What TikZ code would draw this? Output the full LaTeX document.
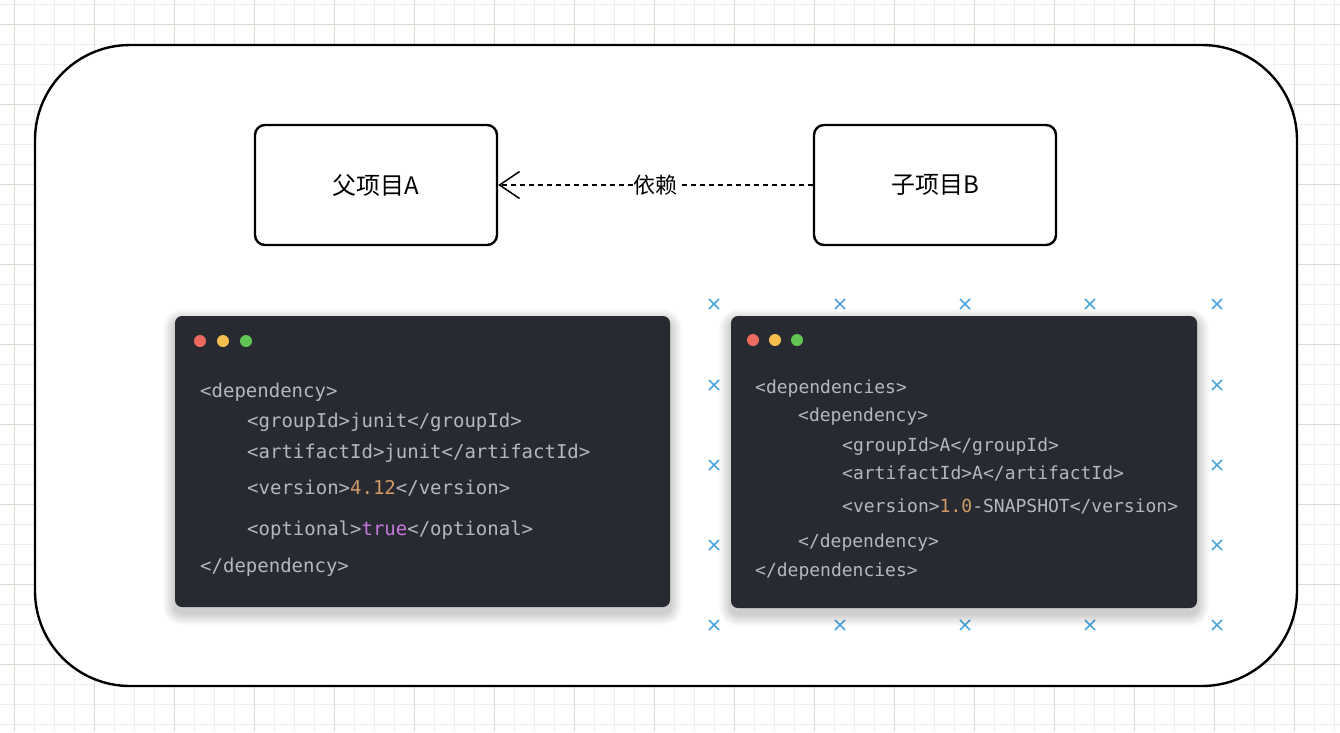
\documentclass[tikz,border=0pt]{standalone}
\usepackage{fontspec}
\setmonofont{DejaVu Sans Mono}
\newfontfamily\cjk{Noto Sans CJK SC}
\usetikzlibrary{arrows.meta,positioning}

\definecolor{gridminor}{HTML}{EFEFEA}
\definecolor{gridmajor}{HTML}{DCDAD0}
\definecolor{codebg}{HTML}{282A31}
\definecolor{codetext}{HTML}{B4B7BD}
\definecolor{codenum}{HTML}{D19A66}
\definecolor{codekw}{HTML}{C678DD}
\definecolor{dotred}{HTML}{EC6A5E}
\definecolor{dotyellow}{HTML}{F4BF4F}
\definecolor{dotgreen}{HTML}{61C554}
\definecolor{marker}{HTML}{4BA3DF}

\tikzstyle{project}=[draw,line width=2.4pt,rounded corners=10pt,minimum width=242pt,minimum height=120pt,font=\cjk\fontsize{24}{28}\selectfont]
\tikzstyle{window}=[fill=codebg,rounded corners=7pt,inner sep=0pt]
\tikzstyle{light}=[circle,inner sep=0pt,minimum size=12pt]
\tikzstyle{codeline}=[anchor=west,inner sep=0pt,text=codetext,text height=14pt,text depth=4pt]
\tikzstyle{crossmark}=[marker,line width=1.5pt]

\begin{document}
\begin{tikzpicture}[x=1pt,y=-1pt,
minorline/.style={gridminor,line width=0.7pt},
majorline/.style={gridmajor,line width=0.7pt},
dep/.style={line width=1.4pt,dash pattern=on 5pt off 4pt,-{Straight Barb[length=20pt,width=27pt,line width=1.5pt]}}]
\useasboundingbox (0,0) rectangle (1340,732);
% background grid
\fill[white] (0,0) rectangle (1340,732);
\foreach \gx in {14,34,...,1334} \draw[minorline] (\gx,0) -- (\gx,732);
\foreach \gy in {4,24,...,724} \draw[minorline] (0,\gy) -- (1340,\gy);
\foreach \gx in {14,94,...,1334} \draw[majorline] (\gx,0) -- (\gx,732);
\foreach \gy in {24,104,...,664} \draw[majorline] (0,\gy) -- (1340,\gy);

% outer frame
\draw[line width=2.4pt,fill=white,rounded corners=95pt] (35,45) rectangle (1297,686);

% the two projects
\node[project] (parentA) at (376,185) {父项目A};
\node[project] (childB) at (935,185) {子项目B};
\draw[dep] (childB) -- node[fill=white,inner sep=1pt,font=\cjk\fontsize{22}{26}\selectfont] (deplabel) {依赖} (parentA);

% selection marks round the right window
\foreach \mx in {714,840,965,1090,1217}
  \foreach \my in {304,625}
    \draw[crossmark] (\mx-5,\my-5) -- (\mx+5,\my+5) (\mx-5,\my+5) -- (\mx+5,\my-5);
\foreach \mx in {714,1217}
  \foreach \my in {385,465,545}
    \draw[crossmark] (\mx-5,\my-5) -- (\mx+5,\my+5) (\mx-5,\my+5) -- (\mx+5,\my-5);

% soft shadows
\foreach \e in {1,...,12} {
  \fill[black,opacity=0.016,rounded corners=7pt+\e pt] (175-\e,321-\e) rectangle (670+\e,613+\e);
  \fill[black,opacity=0.016,rounded corners=7pt+\e pt] (731-\e,321-\e) rectangle (1197+\e,614+\e);
}

% pom of A
\node[window,minimum width=495pt,minimum height=291pt] (pomA) at (422.5,461.5) {};
\foreach \c/\x in {dotred/200,dotyellow/223,dotgreen/246}
  \node[light,fill=\c] (a-\c) at (\x,341) {};
\begin{scope}[every node/.style={codeline,font=\ttfamily\fontsize{19}{22}\selectfont}]
\node (a1) at (200,392) {<dependency>};
\node (a2) at (247,422) {<groupId>junit</groupId>};
\node (a3) at (247,453) {<artifactId>junit</artifactId>};
\node (a4) at (247,489) {<version>{\color{codenum}4.12}</version>};
\node (a5) at (247,530) {<optional>{\color{codekw}true}</optional>};
\node (a6) at (200,567) {</dependency>};
\end{scope}

% pom of B
\node[window,minimum width=466pt,minimum height=292pt] (pomB) at (964,462) {};
\foreach \c/\x in {dotred/753,dotyellow/775,dotgreen/797}
  \node[light,fill=\c] (b-\c) at (\x,340) {};
\begin{scope}[every node/.style={codeline,font=\ttfamily\fontsize{18}{21}\selectfont}]
\node (b1) at (755,388) {<dependencies>};
\node (b2) at (798,416) {<dependency>};
\node (b3) at (842,446) {<groupId>A</groupId>};
\node (b4) at (842,474) {<artifactId>A</artifactId>};
\node (b5) at (842,507) {<version>{\color{codenum}1.0}-SNAPSHOT</version>};
\node (b6) at (798,542) {</dependency>};
\node (b7) at (755,571) {</dependencies>};
\end{scope}
\end{tikzpicture}
\end{document}
